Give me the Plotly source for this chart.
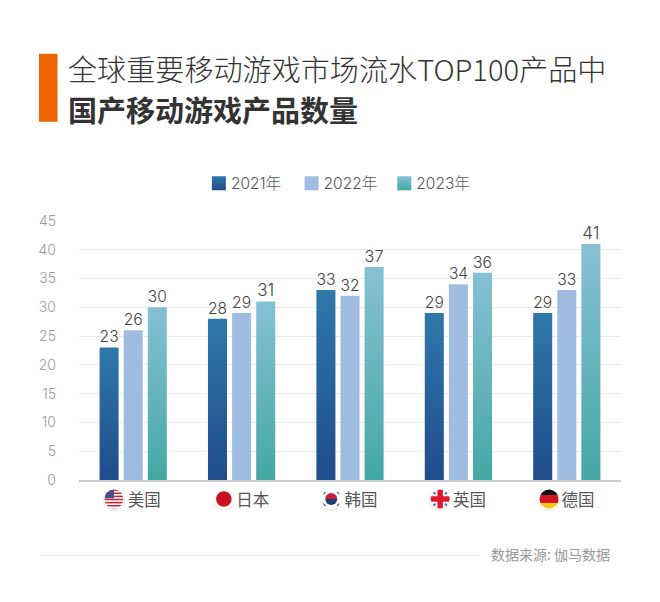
import base64
import plotly.graph_objects as go

countries = ["美国", "日本", "韩国", "英国", "德国"]
years = ["2021年", "2022年", "2023年"]
v2021 = [23, 28, 33, 29, 29]
v2022 = [26, 29, 32, 34, 33]
v2023 = [30, 31, 37, 36, 41]
base_colors = ["#2f74a6", "#a0bde0", "#84bfd3"]
y_ticks = [0, 5, 10, 15, 20, 25, 30, 35, 40, 45]
NBSP = "\u00a0"
CJK = "Noto Sans CJK SC"
NUM = "Inter, " + CJK

W, H = 660, 602
PL, PR, PT, PB = 79, 621.5, 220.5, 480
FLAG_X = [114, 224, 331.5, 440.5, 549.5]


def svg_uri(body):
    s = f'<svg xmlns="http://www.w3.org/2000/svg" width="40" height="40" viewBox="0 0 40 40"><defs><clipPath id="c"><circle cx="20" cy="20" r="16"/></clipPath></defs><circle cx="20" cy="21.5" r="18.5" fill="#e8e8e8"/><circle cx="20" cy="20" r="18" fill="#fff"/><g clip-path="url(#c)">{body}</g></svg>'
    return "data:image/svg+xml;base64," + base64.b64encode(s.encode()).decode()


us = '<rect width="40" height="40" fill="#fff"/>' + "".join(
    f'<rect y="{y}" width="40" height="2.6" fill="#c8283c"/>' for y in (4, 9.2, 14.4, 19.6, 24.8, 30, 35.2)
) + '<rect x="4" y="4" width="16" height="15" fill="#4a4f8e"/>'
jp = '<rect width="40" height="40" fill="#fff"/><circle cx="20" cy="20" r="13" fill="#c9101e"/>'
kr = ('<rect width="40" height="40" fill="#fff"/><path d="M10 20a10 10 0 0 1 20 0z" fill="#c8203a"/>'
      '<path d="M10 20a10 10 0 0 0 20 0z" fill="#1d3f7c"/>'
      '<g stroke="#333" stroke-width="2.5"><path d="M6 12l4-4M30 8l4 4M6 28l4 4M30 32l4-4"/></g>')
uk = ('<rect width="40" height="40" fill="#f6f6f6"/><path d="M7 7l5 5M33 7l-5 5M7 33l5-5M33 33l-5-5" stroke="#5a6a9a" stroke-width="3"/>'
      '<rect x="15.5" y="0" width="9" height="40" fill="#e0182d"/><rect x="0" y="15.5" width="40" height="9" fill="#e0182d"/>')
de = '<rect width="40" height="13.4" fill="#111"/><rect y="13.4" width="40" height="13.3" fill="#d2141e"/><rect y="26.7" width="40" height="13.3" fill="#f7c51c"/>'
flags = [us, jp, kr, uk, de]

fig = go.Figure()
for name, vals, col in zip(years, [v2021, v2022, v2023], base_colors):
    fig.add_trace(go.Bar(
        x=countries, y=vals, name=name, marker=dict(color=col, line=dict(width=0)),
        text=vals, textposition="outside", cliponaxis=False,
        textfont=dict(family=NUM, size=17, color="#444444", weight=300),
    ))

fig.update_layout(
    width=W, height=H, paper_bgcolor="#ffffff", plot_bgcolor="#ffffff",
    margin=dict(l=PL, r=W - PR, t=PT, b=H - PB, autoexpand=False),
    barmode="group", bargap=0.333, bargroupgap=0.21,
    font=dict(family=CJK, color="#555555"),
    showlegend=True,
    legend=dict(orientation="h", x=(191 - PL) / (PR - PL), xanchor="left", xref="paper",
                y=1 + (220.5 - 183) / (PB - PT), yanchor="middle",
                font=dict(size=15.5, family=NUM, color="#555555", weight=300),
                entrywidth=47.7, entrywidthmode="pixels", traceorder="normal"),
    xaxis=dict(type="category", tickmode="array", tickvals=countries,
               ticktext=[NBSP * 6 + c for c in countries],
               tickfont=dict(size=16.5, family=CJK, color="#555555"),
               showline=True, linecolor="#cccccc", linewidth=2, ticks="", showgrid=False,
               zeroline=False, fixedrange=True, ticklabelstandoff=4),
    yaxis=dict(range=[0, 45], tickmode="array", tickvals=y_ticks,
               tickfont=dict(size=14, family=NUM, color="#999999", weight=300),
               gridcolor="#ececec", gridwidth=1, zeroline=False, showline=False,
               ticks="", ticklabelstandoff=22, fixedrange=True),
)

fig.add_shape(type="rect", xref="paper", yref="paper",
              x0=(39 - PL) / (PR - PL), x1=(57.5 - PL) / (PR - PL),
              y0=(PB - 121) / (PB - PT), y1=(PB - 53) / (PB - PT),
              fillcolor="#ee6400", line_width=0, layer="above")
fig.add_shape(type="line", xref="paper", yref="paper",
              x0=(40 - PL) / (PR - PL), x1=(480 - PL) / (PR - PL),
              y0=(PB - 555.5) / (PB - PT), y1=(PB - 555.5) / (PB - PT),
              line=dict(color="#e6e6e6", width=1))


def note(text, x, y, size, color, weight=400):
    fig.add_annotation(text=text, xref="paper", yref="paper", showarrow=False,
                       x=(x - PL) / (PR - PL), y=(PB - y) / (PB - PT),
                       xanchor="left", yanchor="middle", borderpad=0, borderwidth=0,
                       font=dict(size=size, family=CJK, color=color, weight=weight))


note("全球重要移动游戏市场流水TOP100产品中", 68, 67, 29.1, "#333333", 300)
note("国产移动游戏产品数量", 68, 108, 29, "#333333", 700)
note("数据来源: 伽马数据", 491, 554.5, 14, "#999999")

for cx, f in zip(FLAG_X, flags):
    fig.add_layout_image(source=svg_uri(f), xref="paper", yref="paper",
                         x=(cx - PL) / (PR - PL), y=(PB - 499) / (PB - PT),
                         sizex=24 / (PR - PL), sizey=24 / (PB - PT),
                         xanchor="center", yanchor="middle", sizing="contain", layer="above")

post = """
document.body.style.margin = '0';
var gd = document.querySelector('.js-plotly-plot');
var stops = [[['#2f78aa',0],['#204c8c',1]],[['#a0bde0',0],['#9dbce0',1]],[['#87c0d5',0],['#44a8a4',1]]];
function paint(){
  var svg = gd.querySelector('svg.main-svg');
  var defs = svg.querySelector('defs');
  stops.forEach(function(s,i){
    if(document.getElementById('barg'+i)) return;
    var g = document.createElementNS('http://www.w3.org/2000/svg','linearGradient');
    g.setAttribute('id','barg'+i); g.setAttribute('x1','0'); g.setAttribute('x2','0');
    g.setAttribute('y1','0'); g.setAttribute('y2','1');
    s.forEach(function(c){
      var st = document.createElementNS('http://www.w3.org/2000/svg','stop');
      st.setAttribute('offset',c[1]); st.setAttribute('stop-color',c[0]); g.appendChild(st);
    });
    defs.appendChild(g);
  });
  gd.querySelectorAll('.barlayer .trace').forEach(function(t,i){
    t.querySelectorAll('.point path').forEach(function(p){ p.style.fill='url(#barg'+i+')'; });
    t.querySelectorAll('text').forEach(function(b){
      var old = b.getAttribute('transform') || '';
      if(old.indexOf('translate(0 1.5)') !== 0){ b.setAttribute('transform','translate(0 1.5) '+old); }
    });
  });
  gd.querySelectorAll('.legend .traces').forEach(function(t,i){
    t.querySelectorAll('.legendpoints path').forEach(function(p){
      p.setAttribute('d','M15,7H1V-7H15Z'); p.style.fill='url(#barg'+i+')';
    });
  });
}
paint();
gd.on('plotly_afterplot', paint);
"""
fig.write_html("out.html", post_script=post, config={"displayModeBar": False})
